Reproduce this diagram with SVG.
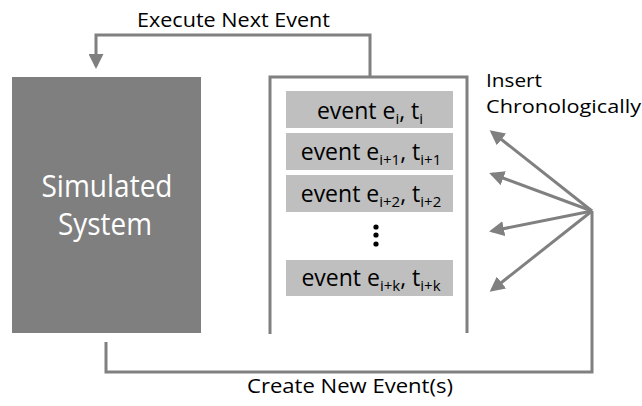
<svg xmlns="http://www.w3.org/2000/svg" width="642" height="406" viewBox="0 0 642 406">
<defs>
<style>
.lbl{font-family:"Open Sans","Liberation Sans",sans-serif;font-size:20.5px;fill:#000}
.ins{font-family:"Open Sans","Liberation Sans",sans-serif;font-size:19px;fill:#000}
.ev{font-family:"Open Sans","Liberation Sans",sans-serif;font-size:23px;fill:#000;text-anchor:middle}
.sub{font-size:15px}
.sim{font-family:"Open Sans","Liberation Sans",sans-serif;font-size:31px;fill:#fff;text-anchor:middle}
.row{fill:#bfbfbf}
.ln{fill:none;stroke:#808080;stroke-width:3}
</style>
<marker id="ah" viewBox="0 0 10 10" refX="8" refY="5" markerWidth="5" markerHeight="5" orient="auto" markerUnits="strokeWidth">
<path d="M0,0 L10,5 L0,10 Z" fill="#808080"/>
</marker>
</defs>
<rect width="642" height="406" fill="#fff"/>
<g id="sim">
<rect x="12" y="77" width="189" height="256" fill="#7f7f7f"/>
<text class="sim" x="107" y="197" textLength="131" lengthAdjust="spacingAndGlyphs">Simulated</text>
<text class="sim" x="105" y="235" textLength="94" lengthAdjust="spacingAndGlyphs">System</text>
</g>
<g id="queue">
<path class="ln" d="M270,334 V77 H467 V333"/>
<rect class="row" x="286" y="91" width="167" height="37"/>
<text class="ev" x="370" y="119">event e<tspan class="sub" dy="5">i</tspan><tspan dy="-5">, t</tspan><tspan class="sub" dy="5">i</tspan></text>
<rect class="row" x="286" y="133" width="167" height="37"/>
<text class="ev" x="371" y="160">event e<tspan class="sub" dy="5">i+1</tspan><tspan dy="-5">, t</tspan><tspan class="sub" dy="5">i+1</tspan></text>
<rect class="row" x="286" y="175" width="167" height="37"/>
<text class="ev" x="371" y="202">event e<tspan class="sub" dy="5">i+2</tspan><tspan dy="-5">, t</tspan><tspan class="sub" dy="5">i+2</tspan></text>
<circle cx="376" cy="227" r="2.6" fill="#000"/>
<circle cx="376" cy="235" r="2.6" fill="#000"/>
<circle cx="376" cy="244" r="2.6" fill="#000"/>
<rect class="row" x="286" y="260" width="167" height="36"/>
<text class="ev" x="371" y="286">event e<tspan class="sub" dy="5">i+k</tspan><tspan dy="-5">, t</tspan><tspan class="sub" dy="5">i+k</tspan></text>
</g>
<g id="connectors">
<path class="ln" d="M370,77 V35 H96 V66" marker-end="url(#ah)"/>
<path class="ln" d="M106,342 V372 H592 V211"/>
<line class="ln" x1="592" y1="211" x2="492" y2="132" marker-end="url(#ah)"/>
<line class="ln" x1="592" y1="211" x2="492" y2="174" marker-end="url(#ah)"/>
<line class="ln" x1="592" y1="211" x2="492" y2="231" marker-end="url(#ah)"/>
<line class="ln" x1="592" y1="211" x2="492" y2="290" marker-end="url(#ah)"/>
</g>
<g id="labels">
<text class="lbl" x="137" y="27" textLength="193" lengthAdjust="spacingAndGlyphs">Execute Next Event</text>
<text class="lbl" x="247" y="393" textLength="206" lengthAdjust="spacingAndGlyphs">Create New Event(s)</text>
<text class="ins" x="486" y="87" textLength="56" lengthAdjust="spacingAndGlyphs">Insert</text>
<text class="ins" x="486" y="113" textLength="155" lengthAdjust="spacingAndGlyphs">Chronologically</text>
</g>
</svg>
